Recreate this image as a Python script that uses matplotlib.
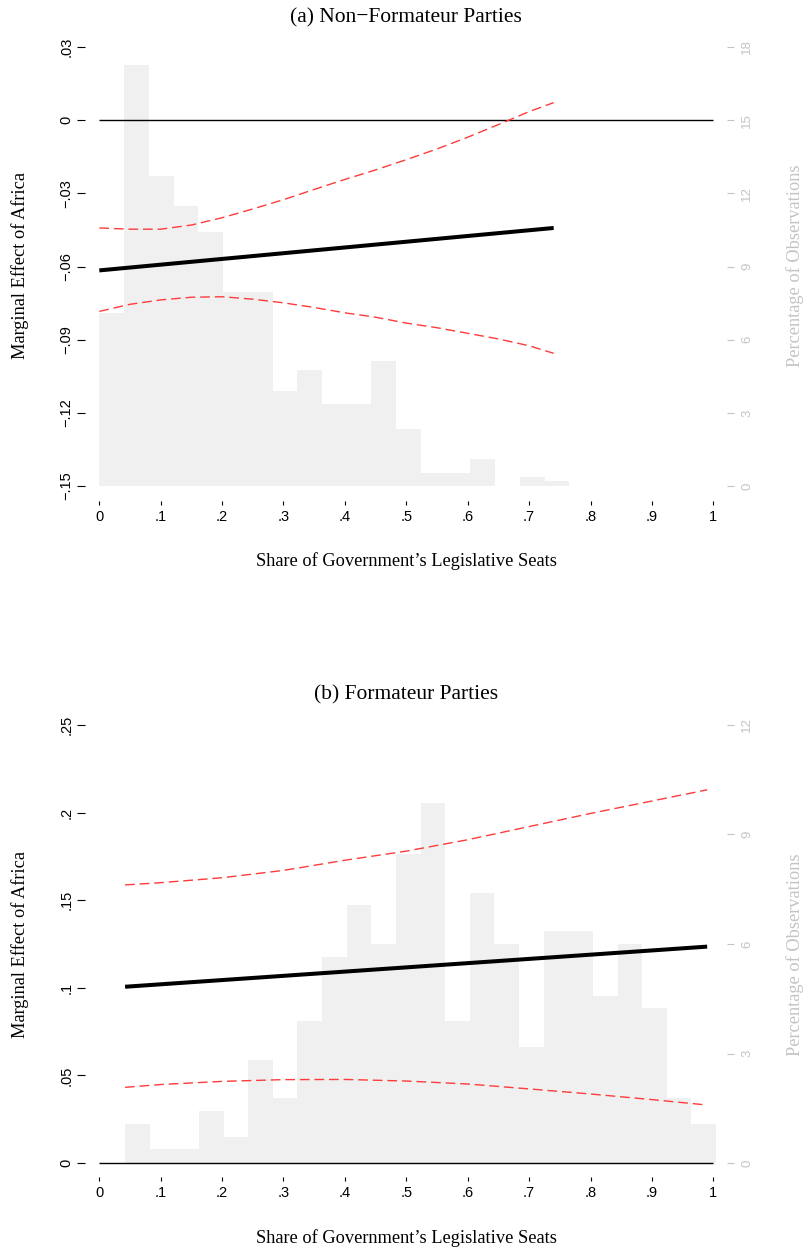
import numpy as np
import matplotlib
matplotlib.use("Agg")
import matplotlib.pyplot as plt

# ---------------- data ----------------
# x axis (shared)
x_ticks = [0, .1, .2, .3, .4, .5, .6, .7, .8, .9, 1]
x_ticklabels = ["0", ".1", ".2", ".3", ".4", ".5", ".6", ".7", ".8", ".9", "1"]

# Panel (a): Non-Formateur parties
a_title = "(a) Non\u2212Formateur Parties"
a_hist_start = 0.0
a_hist_width = 0.0403
a_hist_pct = [7.08, 17.27, 12.70, 11.47, 10.40, 7.94, 7.94, 3.90, 4.76, 3.38,
              3.38, 5.13, 2.33, 0.55, 0.55, 1.09, 0.0, 0.38, 0.21]
a_me_x = [0.0, 0.74]
a_me = [-0.0616, -0.0442]
a_ci_x = [0.0, .05, .10, .15, .20, .25, .30, .35, .40, .45, .50, .55, .60, .65, .70, .74]
a_upper = [-0.0442, -0.0447, -0.0447, -0.0430, -0.0400, -0.0364, -0.0326, -0.0284,
           -0.0243, -0.0204, -0.0162, -0.0118, -0.0070, -0.0018, 0.0035, 0.0072]
a_lower = [-0.0784, -0.0755, -0.0737, -0.0726, -0.0724, -0.0734, -0.0749, -0.0768,
           -0.0790, -0.0808, -0.0832, -0.0851, -0.0874, -0.0897, -0.0925, -0.0956]
a_yticks = [-0.15, -0.12, -0.09, -0.06, -0.03, 0.0, 0.03]
a_yticklabels = ["\u2212.15", "\u2212.12", "\u2212.09", "\u2212.06", "\u2212.03", "0", ".03"]
a_pct_ticks = [0, 3, 6, 9, 12, 15, 18]
a_pct_base = -0.15      # left-axis value where 0 % sits
a_pct_per_unit = 100.0  # % per left-axis unit

# Panel (b): Formateur parties
b_title = "(b) Formateur Parties"
b_hist_start = 0.042
b_hist_width = 0.0401
b_hist_pct = [1.07, 0.375, 0.375, 1.42, 0.72, 2.83, 1.78, 3.90, 5.64, 7.06, 6.01, 8.47,
              9.87, 3.90, 7.40, 6.01, 3.19, 6.36, 6.36, 4.58, 6.01, 4.25, 1.78, 1.07]
b_me_x = [0.042, 0.99]
b_me = [0.1006, 0.1235]
b_ci_x = [0.042, .1, .2, .3, .4, .5, .6, .7, .8, .9, .99]
b_upper = [0.1587, 0.1600, 0.1628, 0.1670, 0.1728, 0.1780, 0.1845, 0.1920, 0.1995, 0.2066, 0.2130]
b_lower = [0.0432, 0.0448, 0.0466, 0.0476, 0.0477, 0.0468, 0.0451, 0.0423, 0.0394, 0.0362, 0.0331]
b_yticks = [0.0, 0.05, 0.10, 0.15, 0.20, 0.25]
b_yticklabels = ["0", ".05", ".1", ".15", ".2", ".25"]
b_pct_ticks = [0, 3, 6, 9, 12]
b_pct_base = 0.0
b_pct_per_unit = 48.0

xlabel = "Share of Government\u2019s Legislative Seats"
ylabel = "Marginal Effect of Africa"
ylabel2 = "Percentage of Observations"

# ---------------- style ----------------
W, H = 804, 1251
SERIF = ["Liberation Serif", "DejaVu Serif"]
SANS = ["Liberation Sans", "DejaVu Sans"]
HIST_C = "#f0f0f0"
RED = "#ff3b3b"
GRAY = "#c4c4c4"

fig = plt.figure(figsize=(W / 100, H / 100), dpi=100)


def px_axes(l, t, r, b):
    return fig.add_axes([l / W, 1 - b / H, (r - l) / W, (b - t) / H])


def panel(box, ylim, start, width, pct, me_x, me, ci_x, up, lo,
          yticks, yticklabels, pct_ticks, pct_base, pct_per_unit):
    ax = px_axes(*box)
    ax2 = ax.twinx()
    ax.set_zorder(2)
    ax2.set_zorder(1)
    ax.patch.set_visible(False)

    xlim = (-0.0228, 1.0228)
    ax.set_xlim(*xlim)
    ax.set_ylim(*ylim)
    ax2.set_ylim((ylim[0] - pct_base) * pct_per_unit, (ylim[1] - pct_base) * pct_per_unit)

    edges = start + width * np.arange(len(pct))
    ax2.bar(edges, pct, width=width, align="edge", color=HIST_C, linewidth=0)

    ax.hlines(0, 0, 1, color="black", lw=1.0)
    ax.plot(ci_x, up, color=RED, lw=1.0, dashes=(7, 3.5))
    ax.plot(ci_x, lo, color=RED, lw=1.0, dashes=(7, 3.5))
    ax.plot(me_x, me, color="black", lw=2.9, solid_capstyle="butt")

    for a in (ax, ax2):
        for s in a.spines.values():
            s.set_visible(False)

    ax.set_xticks(x_ticks, x_ticklabels, family=SANS, fontsize=10.5)
    ax.set_yticks(yticks, yticklabels, family=SANS, fontsize=10.5,
                  rotation=90, va="center")
    ax.tick_params(axis="y", length=5.5, width=0.8, pad=3, direction="out")
    ax.tick_params(axis="x", length=3.2, width=0.8, pad=3.5, direction="out")

    ax2.set_yticks(pct_ticks, [str(p) for p in pct_ticks], family=SANS,
                   fontsize=9.5, rotation=90, va="center", color=GRAY)
    ax2.tick_params(axis="y", length=5, width=0.8, pad=5, color=GRAY,
                    direction="out")
    return ax


panel((85.3, 32.3, 727.3, 500.7), (-0.15603, 0.03603),
      a_hist_start, a_hist_width, a_hist_pct, a_me_x, a_me, a_ci_x, a_upper, a_lower,
      a_yticks, a_yticklabels, a_pct_ticks, a_pct_base, a_pct_per_unit)
panel((85.3, 711.3, 727.3, 1176.7), (-0.0078, 0.2578),
      b_hist_start, b_hist_width, b_hist_pct, b_me_x, b_me, b_ci_x, b_upper, b_lower,
      b_yticks, b_yticklabels, b_pct_ticks, b_pct_base, b_pct_per_unit)


def ftext(x, y, s, **kw):
    fig.text(x / W, 1 - y / H, s, ha="center", va="center", family=SERIF, **kw)


ftext(406, 18, a_title, fontsize=15.5)
ftext(406, 695, b_title, fontsize=15.5)
ftext(406, 561, xlabel, fontsize=13.2)
ftext(406, 1238, xlabel, fontsize=13.2)
ftext(20, 266, ylabel, fontsize=13.2, rotation=90)
ftext(20, 944, ylabel, fontsize=13.2, rotation=90)
ftext(795, 266, ylabel2, fontsize=13.2, rotation=90, color=GRAY)
ftext(795, 955, ylabel2, fontsize=13.2, rotation=90, color=GRAY)

fig.savefig("out.png", dpi=100)
